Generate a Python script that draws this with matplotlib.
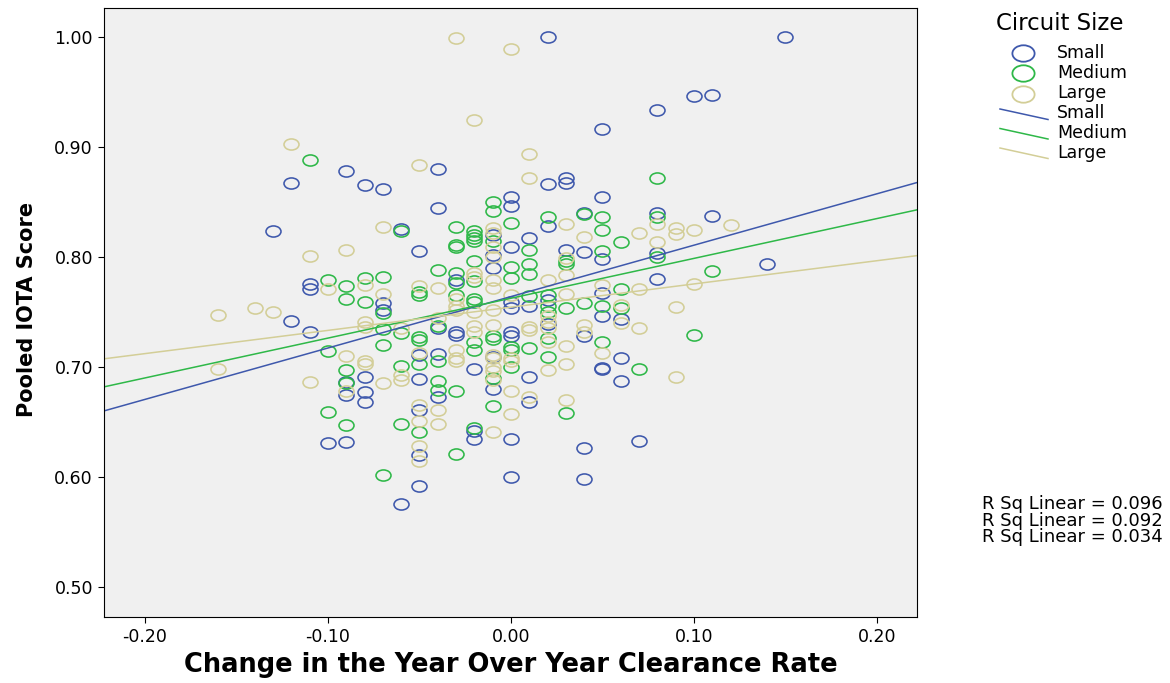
import matplotlib
matplotlib.use("Agg")
import matplotlib.pyplot as plt
from matplotlib.lines import Line2D
from matplotlib.path import Path
from matplotlib.transforms import Affine2D
import numpy as np

plt.rcParams["font.family"] = ["DejaVu Sans"]

# change in clearance rate vs pooled IOTA score, by circuit size
small_x = [-0.13, -0.12, -0.12, -0.11, -0.11, -0.11, -0.10, -0.09, -0.09, -0.09, -0.09,
           -0.08, -0.08, -0.08, -0.08, -0.07, -0.07, -0.07, -0.06, -0.06,
           -0.05, -0.05, -0.05, -0.05, -0.05, -0.05, -0.04, -0.04, -0.04, -0.04, -0.04,
           -0.03, -0.03, -0.03, -0.02, -0.02, -0.02, -0.01, -0.01, -0.01, -0.01, -0.01,
           0.00, 0.00, 0.00, 0.00, 0.00, 0.00, 0.00, 0.00, 0.00,
           0.01, 0.01, 0.01, 0.01, 0.02, 0.02, 0.02, 0.02, 0.02,
           0.03, 0.03, 0.03, 0.04, 0.04, 0.04, 0.04, 0.04,
           0.05, 0.05, 0.05, 0.05, 0.05, 0.05, 0.05, 0.06, 0.06, 0.06, 0.07,
           0.08, 0.08, 0.08, 0.08, 0.10, 0.11, 0.11, 0.14, 0.15]
small_y = [0.823, 0.867, 0.742, 0.775, 0.771, 0.732, 0.631, 0.878, 0.686, 0.674, 0.632,
           0.865, 0.691, 0.677, 0.668, 0.862, 0.758, 0.752, 0.825, 0.575,
           0.805, 0.711, 0.689, 0.661, 0.620, 0.592, 0.880, 0.844, 0.735, 0.712, 0.673,
           0.779, 0.732, 0.729, 0.698, 0.642, 0.634, 0.820, 0.802, 0.790, 0.709, 0.680,
           0.854, 0.846, 0.809, 0.759, 0.753, 0.732, 0.728, 0.634, 0.600,
           0.817, 0.755, 0.691, 0.668, 1.000, 0.866, 0.828, 0.761, 0.739,
           0.872, 0.867, 0.806, 0.840, 0.804, 0.728, 0.626, 0.598,
           0.916, 0.854, 0.798, 0.767, 0.746, 0.699, 0.698, 0.743, 0.708, 0.687, 0.633,
           0.933, 0.840, 0.803, 0.780, 0.946, 0.947, 0.837, 0.793, 1.000]

medium_x = [-0.11, -0.10, -0.10, -0.10, -0.09, -0.09, -0.09, -0.09, -0.09, -0.08, -0.08,
            -0.07, -0.07, -0.07, -0.07, -0.07, -0.06, -0.06, -0.06, -0.06,
            -0.05, -0.05, -0.05, -0.05, -0.05, -0.05, -0.04, -0.04, -0.04, -0.04, -0.04,
            -0.03, -0.03, -0.03, -0.03, -0.03, -0.03, -0.03, -0.03,
            -0.02, -0.02, -0.02, -0.02, -0.02, -0.02, -0.02, -0.02, -0.02, -0.02, -0.02,
            -0.01, -0.01, -0.01, -0.01, -0.01, -0.01, -0.01,
            0.00, 0.00, 0.00, 0.00, 0.00, 0.00, 0.01, 0.01, 0.01, 0.01, 0.01,
            0.02, 0.02, 0.02, 0.02, 0.02, 0.02, 0.03, 0.03, 0.03, 0.03, 0.04, 0.04,
            0.05, 0.05, 0.05, 0.05, 0.05, 0.06, 0.06, 0.06, 0.07,
            0.08, 0.08, 0.08, 0.10, 0.11]
medium_y = [0.888, 0.779, 0.714, 0.659, 0.773, 0.762, 0.697, 0.685, 0.647, 0.781, 0.759,
            0.782, 0.749, 0.734, 0.720, 0.602, 0.823, 0.731, 0.701, 0.648,
            0.768, 0.765, 0.727, 0.724, 0.703, 0.641, 0.788, 0.737, 0.705, 0.687, 0.679,
            0.827, 0.811, 0.809, 0.785, 0.776, 0.765, 0.678, 0.621,
            0.823, 0.820, 0.817, 0.814, 0.796, 0.778, 0.762, 0.759, 0.723, 0.715, 0.644,
            0.850, 0.842, 0.814, 0.728, 0.725, 0.690, 0.664,
            0.831, 0.791, 0.781, 0.718, 0.715, 0.700, 0.806, 0.793, 0.784, 0.764, 0.717,
            0.836, 0.765, 0.755, 0.750, 0.726, 0.709, 0.796, 0.793, 0.753, 0.658, 0.839, 0.758,
            0.836, 0.824, 0.805, 0.755, 0.723, 0.813, 0.771, 0.753, 0.698,
            0.872, 0.836, 0.800, 0.729, 0.787]

large_x = [-0.16, -0.16, -0.14, -0.13, -0.12, -0.11, -0.11, -0.10, -0.09, -0.09, -0.09,
           -0.08, -0.08, -0.08, -0.08, -0.08, -0.07, -0.07, -0.07, -0.06, -0.06, -0.06,
           -0.05, -0.05, -0.05, -0.05, -0.05, -0.05, -0.05, -0.04, -0.04, -0.04, -0.04,
           -0.03, -0.03, -0.03, -0.03, -0.03, -0.03, -0.03,
           -0.02, -0.02, -0.02, -0.02, -0.02, -0.02,
           -0.01, -0.01, -0.01, -0.01, -0.01, -0.01, -0.01, -0.01, -0.01, -0.01, -0.01,
           -0.01, -0.01, -0.01,
           0.00, 0.00, 0.00, 0.00, 0.00, 0.00, 0.01, 0.01, 0.01, 0.01, 0.01,
           0.02, 0.02, 0.02, 0.02, 0.02, 0.02, 0.03, 0.03, 0.03, 0.03, 0.03, 0.03, 0.03,
           0.04, 0.04, 0.04, 0.05, 0.05, 0.06, 0.06, 0.07, 0.07, 0.07, 0.08, 0.08,
           0.09, 0.09, 0.09, 0.09, 0.10, 0.10, 0.12]
large_y = [0.747, 0.698, 0.753, 0.750, 0.902, 0.801, 0.686, 0.771, 0.806, 0.710, 0.678,
           0.774, 0.741, 0.736, 0.705, 0.703, 0.827, 0.766, 0.685, 0.735, 0.693, 0.688,
           0.883, 0.773, 0.713, 0.665, 0.651, 0.628, 0.614, 0.772, 0.744, 0.661, 0.648,
           0.999, 0.762, 0.755, 0.752, 0.715, 0.708, 0.705,
           0.924, 0.785, 0.782, 0.750, 0.737, 0.732,
           0.826, 0.822, 0.809, 0.800, 0.779, 0.772, 0.752, 0.738, 0.711, 0.708, 0.700,
           0.696, 0.688, 0.641,
           0.989, 0.765, 0.708, 0.705, 0.678, 0.657, 0.893, 0.872, 0.736, 0.733, 0.673,
           0.779, 0.746, 0.741, 0.735, 0.723, 0.697, 0.830, 0.799, 0.783, 0.766, 0.719, 0.703, 0.670,
           0.818, 0.738, 0.732, 0.774, 0.713, 0.756, 0.740, 0.822, 0.771, 0.735, 0.830, 0.813,
           0.826, 0.821, 0.754, 0.691, 0.824, 0.775, 0.829]

sizes = ["Small", "Medium", "Large"]
colors = ["#3E58AC", "#2EB848", "#D3CE97"]
# linear fit lines (slope, intercept) and their R squared
fit_slope = [0.467, 0.362, 0.211]
fit_intercept = [0.7638, 0.7623, 0.7542]
r_squared = [0.096, 0.092, 0.034]

xticks = [-0.20, -0.10, 0.00, 0.10, 0.20]
yticks = [0.50, 0.60, 0.70, 0.80, 0.90, 1.00]

W, H = 1170, 683
fig = plt.figure(figsize=(W / 100, H / 100), dpi=100)
fig.patch.set_facecolor("white")


def fpos(x, y):
    # pixel position -> figure fraction
    return x / W, 1 - y / H


ax = fig.add_axes([104 / W, 1 - 617 / H, 813 / W, 609 / H])
ax.set_facecolor("#F0F0F0")
xlim = (-0.2224, 0.2219)
ax.set_xlim(*xlim)
ax.set_ylim(0.4727, 1.026)

oval = Path.unit_circle().transformed(Affine2D().scale(1.0, 0.74))

series = [(small_x, small_y), (medium_x, medium_y), (large_x, large_y)]
for (xs, ys), c in zip(series, colors):
    ax.plot(xs, ys, linestyle="none", marker=oval, markersize=10.8,
            markerfacecolor="none", markeredgecolor=c, markeredgewidth=1.15)

xx = np.array(xlim)
for m, b, c in zip(fit_slope, fit_intercept, colors):
    ax.plot(xx, m * xx + b, color=c, linewidth=1.1)

ax.set_xticks(xticks)
ax.set_xticklabels([f"{t:.2f}" for t in xticks], fontsize=12.5)
ax.set_yticks(yticks)
ax.set_yticklabels([f"{t:.2f}" for t in yticks], fontsize=12.5)
ax.tick_params(direction="out", length=4, width=0.8, color="black", pad=4)
for s in ax.spines.values():
    s.set_color("black")
    s.set_linewidth(0.8)

ax.set_xlabel("Change in the Year Over Year Clearance Rate", fontsize=18.5,
              fontweight="bold")
ax.xaxis.set_label_coords(0.5, -0.057)
ax.set_ylabel("Pooled IOTA Score", fontsize=15, fontweight="bold")
ax.yaxis.set_label_coords(-0.082, 0.505)

# legend drawn by hand: oval markers then slanted fit-line keys
fig.text(*fpos(996, 23), "Circuit Size", fontsize=16.5, va="center", ha="left")
for i, (name, c) in enumerate(zip(sizes, colors)):
    yc = 52.5 + 20.5 * i
    fig.add_artist(Line2D([fpos(1023, yc)[0]], [fpos(1023, yc)[1]],
                          transform=fig.transFigure, linestyle="none", marker=oval,
                          markersize=16, markerfacecolor="none", markeredgecolor=c,
                          markeredgewidth=1.3))
    fig.text(*fpos(1057, yc), name, fontsize=12.5, va="center", ha="left")
for i, (name, c) in enumerate(zip(sizes, colors)):
    y0 = 109 + 19.5 * i
    x0, f0 = fpos(1000, y0)
    x1, f1 = fpos(1048, y0 + 10.5)
    fig.add_artist(Line2D([x0, x1], [f0, f1], transform=fig.transFigure,
                          color=c, linewidth=1.1))
    fig.text(*fpos(1057, y0 + 4.5), name, fontsize=12.5, va="center", ha="left")

for i, r in enumerate(r_squared):
    fig.text(*fpos(1163, 504 + 16.5 * i), f"R Sq Linear = {r:.3f}",
             fontsize=13, va="center", ha="right")

fig.savefig("out.png", dpi=100)
